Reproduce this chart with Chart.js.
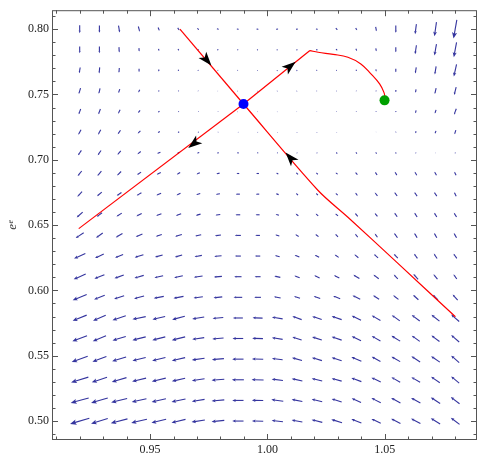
<!DOCTYPE html>
<html><head><meta charset="utf-8">
<script src="https://cdn.jsdelivr.net/npm/chart.js@4.4.1/dist/chart.umd.min.js"></script>
<style>html,body{margin:0;padding:0;background:#fff;}canvas{display:block;}</style>
</head><body>
<canvas id="c" width="482" height="453"></canvas>
<script>
// ---- grid of the vector field ----
const xGrid = [0.92,0.9284,0.9368,0.9453,0.9537,0.9621,0.9705,0.9789,0.9874,0.9958,1.0042,1.0126,1.0211,1.0295,1.0379,1.0463,1.0547,1.0632,1.0716,1.08];
const yGrid = [0.80,0.7842,0.7684,0.7526,0.7368,0.7211,0.7053,0.6895,0.6737,0.6579,0.6421,0.6263,0.6105,0.5947,0.5789,0.5632,0.5474,0.5316,0.5158,0.50];
// field components (horizontal, vertical), one row per yGrid value
const fieldU = [
[0,0,1.2,1.5,1.3,1.5,1.5,2,2,2,2,2,2,1.7,1.4,0.8,0,-1.3,-2,-3.3],
[0,0,0.3,0.3,0.5,1,1,1.2,1.2,1.2,1.2,1.4,1.5,1.2,1,0.6,0,-1.3,-2,-2.7],
[-1,-0.6,-0.4,0,0,0.5,0.5,0.6,0.8,0.8,0.9,1,1,0.8,0.8,0.5,0,-1,-1.3,-2.7],
[-1.7,-1.3,-1.3,-1.4,-0.6,-0.2,0.3,0.3,0.3,0.5,0.6,0.7,0.7,0.6,0.4,0.2,-0.2,-0.6,-1.3,-2],
[-2,-2,-2,-2,-1.3,-0.8,-0.5,-0.3,0.2,0.3,0.4,0.4,0.3,0.3,0.2,0,-0.3,-0.7,-1.2,-2.2],
[-2.7,-2.7,-2.7,-2.7,-2,-1.4,-1,-0.6,-0.3,-0.2,-0.3,-0.3,-0.2,-0.2,0,0,-0.3,-0.6,-1,-1.3],
[-3.4,-3.3,-3.3,-3.3,-3.3,-2.5,-2,-1.8,-1.6,-1.3,-0.8,-0.6,-0.6,-1,-1,-1,-0.8,-0.5,-0.3,-0.6],
[-4,-4,-4,-4,-4,-3.3,-3.3,-3.3,-2.7,-2.7,-2,-2,-1.8,-2,-2,-2,-2,-2,-2,-1.8],
[-4.7,-4.7,-4.7,-4.7,-4.7,-4,-4,-4,-4,-3.3,-2.7,-2,-2,-2,-2,-2.7,-2.7,-2.7,-2.7,-2],
[-6,-5.3,-5.3,-5.3,-5.3,-5.3,-4.7,-4.7,-4.7,-4,-3.3,-2.7,-2.5,-2.7,-2.7,-2.7,-2.7,-2.7,-2.7,-2.7],
[-8,-6.7,-6.7,-6.7,-6,-6.7,-6,-6,-6,-4.7,-4,-3.3,-3,-2.7,-2.7,-2.7,-3.3,-2.7,-2.7,-2.7],
[-11.3,-8.7,-8,-8.7,-7.7,-7.3,-7.3,-7.3,-6,-5.3,-4.7,-4.7,-4.3,-4,-4,-4,-4,-3.3,-3.3,-3.3],
[-12,-10,-9.3,-9.3,-8.7,-8.7,-8.7,-8,-7.3,-6,-6,-5.3,-5.3,-5.3,-6,-5.3,-4,-4.7,-4,-3.3],
[-14,-10.7,-10,-10,-10,-10,-9.3,-8.7,-8.7,-6.7,-6.7,-6,-6.5,-7,-7.7,-6,-5.3,-5.3,-5,-5],
[-14,-12.7,-13.3,-13.3,-12.7,-12.7,-12,-10.7,-10,-10,-10.7,-9.3,-9.5,-10,-9.3,-8.7,-8,-8,-8,-8],
[-14.7,-13.3,-13.3,-13.3,-13,-13.3,-12,-11.3,-10.7,-10.7,-10.7,-9.3,-9.7,-10,-9.3,-8.7,-8.7,-8,-8,-8],
[-16,-14,-14,-13.3,-13.3,-13.3,-12.7,-12,-11.3,-11.3,-10.7,-10,-10,-10,-10,-8.7,-8.7,-8.7,-8.7,-8],
[-17.3,-15.3,-14.7,-14,-14,-13.3,-12.7,-12.7,-12,-12,-11.3,-10.7,-10.5,-10,-10,-9.3,-8.7,-8.7,-8.7,-8],
[-18,-16.7,-16,-14.7,-14.3,-14,-12.7,-12.7,-11.3,-11.3,-12,-10.7,-10.5,-10,-9.3,-9.3,-9.3,-9.3,-9.3,-8.7],
[-19.3,-16.7,-16.7,-15.7,-14.7,-14,-13.3,-12.7,-11.3,-11.3,-11.3,-10.7,-10.7,-10.7,-10,-9.3,-9.3,-9.3,-9.3,-8.7]
];
const fieldV = [
[-8,-7.3,-6.9,-5.3,-3.3,-2.5,-1.8,-0.6,-0.3,0,0.4,0.2,-0.2,-1.8,-2.1,-4.4,-7.3,-10,-14,-18.7],
[-6.7,-6.7,-5.3,-3.3,-1.9,-1.5,-1,-0.6,-0.2,0.2,0.4,0.3,-0.3,-1.5,-2.2,-3,-5,-9,-11.3,-14.8],
[-5.9,-6,-4.7,-3.3,-2,-1.4,-1,-0.6,-0.2,0.3,0.5,0.4,0,-0.6,-1.3,-2,-3.5,-6,-8,-12.3],
[-6,-5.3,-4,-2.7,-1.3,-0.9,-0.6,-0.3,0.1,0.3,0.4,0.3,0,-0.4,-0.6,-0.8,-2,-3.4,-5.7,-7.7],
[-5.3,-5.3,-4,-2.7,-1.3,-0.6,-0.3,-0.2,0.2,0.2,0.1,-0.1,-0.3,-0.5,-0.6,-0.8,-1,-2.9,-3.8,-5.9],
[-5,-5,-4,-2.7,-1.3,-0.8,-0.4,-0.2,0,0.1,0.4,0.5,0.5,0.3,0,-0.3,-0.8,-1.9,-2.8,-4.3],
[-5,-4.7,-4,-2.7,-1.3,-1,-0.6,-0.3,0,0.2,0.6,0.7,0.8,1.4,1.5,1.4,1.2,0.8,0.3,0.8],
[-5,-4.7,-4,-2.7,-2,-2,-1.3,-0.7,0,0,1,1.7,1.5,1.3,2.3,3,3.3,3.5,3.5,3.5],
[-5,-4,-3.3,-2.7,-2,-2,-1.3,-0.7,0,0,1,2,2,2,2.7,3.3,3.7,4,4,4],
[-5.3,-4,-3.3,-2.7,-2,-2,-1.3,-0.7,0,0,1,2,2.2,2.3,3.3,3.3,4,4.3,4.3,4.3],
[-5.3,-4.7,-4,-2.7,-2,-2,-1.3,-0.7,0,0,1.3,2,2.4,2.7,3.3,3.7,4.7,4.7,4.7,4.7],
[-5,-4,-3.3,-2.7,-2,-2,-1.3,-0.7,0,0,1.3,2,2.3,2.7,3.3,3.7,4.3,4.7,5,4.7],
[-5.3,-4,-3.3,-2.7,-2,-2,-1.3,-0.7,0,0,1.3,2,2.4,2.7,3.7,4,4.3,5.3,5,4.7],
[-5.7,-4.3,-3.3,-2.7,-2,-2,-1.3,-1,0,0,1.3,2,2.3,2.7,3.7,3.7,4,4.8,5.2,5.5],
[-5.7,-5.7,-4.3,-2.7,-3,-3.3,-2,-1,0,0.3,1.7,3.3,3.2,3.3,4.7,5,5.7,6,6.3,7],
[-5.7,-5.3,-4,-3.3,-3.3,-3.3,-1.7,-1,0,0.3,1.7,3,3.2,3.3,4.3,5,5.3,5.7,6,7],
[-5.7,-5.3,-4.3,-3.3,-3.3,-3,-1.7,-1,0,0.3,1.3,2.7,3,3.3,4.3,4.7,5,5.7,6,7],
[-5.3,-5,-4.3,-3.3,-3.3,-3,-2,-1,0,0.3,1.3,2.3,2.5,2.7,3.7,4.3,5,5,6,6.7],
[-5,-5,-4,-3.3,-3.2,-3,-2,-1,0,0.3,1.7,2,2.5,3,4.3,4.7,5,5,6,6.7],
[-5.7,-5.3,-4.3,-3.7,-3.5,-3.3,-2,-1.3,0,0.3,1.3,2,2.7,3.3,4,4.3,4.7,5,5.7,6.7]
];
// ---- trajectories ----
const stableTopX = [0.9627,0.9898];
const stableTopY = [0.8000,0.7427];
const stableBottomX = [1.0801,1.0555,1.0343,1.0216,0.9898];
const stableBottomY = [0.5798,0.6209,0.6560,0.6765,0.7427];
const unstableLeftX = [0.9898,0.9196];
const unstableLeftY = [0.7427,0.6473];
const unstableRightX = [0.9898,1.0181];
const unstableRightY = [0.7427,0.7836];
const bendX = [1.0181,1.0216,1.0280,1.0343,1.0398,1.0441,1.0478,1.0496,1.0502];
const bendY = [0.7836,0.7823,0.7807,0.7785,0.7734,0.7658,0.7581,0.7518,0.7473];
const saddleX = [0.9898], saddleY = [0.7427];
const nodeX = [1.0499], nodeY = [0.7455];
// arrow markers on trajectories: position and sense (+1 away from saddle, -1 towards)
const markerX = [0.9742,1.0097,0.9686,1.0097];
const markerY = [0.7762,0.7716,0.7123,0.7016];
const markerSense = [-1,1,1,-1];

const pts = (xs,ys)=>xs.map((x,i)=>({x:x,y:ys[i]}));
const isMajor = v => Math.abs(Math.round(v*100)%5)===0;

function drawVec(ctx,cx,cy,dx,dy){
  const L=Math.hypot(dx,dy); if(L<0.2) return;
  const ux=dx/L, uy=dy/L;
  const x0=cx-dx/2, y0=cy-dy/2, x1=cx+dx/2, y1=cy+dy/2;
  const hl=Math.max(L*0.32,0.6), hw=Math.max(L*0.135,0.5);
  ctx.beginPath(); ctx.moveTo(x0,y0); ctx.lineTo(x1-ux*hl*0.7,y1-uy*hl*0.7); ctx.stroke();
  ctx.beginPath(); ctx.moveTo(x1,y1);
  ctx.lineTo(x1-ux*hl-uy*hw, y1-uy*hl+ux*hw);
  ctx.lineTo(x1-ux*hl*0.78, y1-uy*hl*0.78);
  ctx.lineTo(x1-ux*hl+uy*hw, y1-uy*hl-ux*hw);
  ctx.closePath(); ctx.fill();
}

const fieldPlugin = {
  id:'field',
  beforeDatasetsDraw(chart){
    const {ctx, scales:{x,y}} = chart;
    ctx.save();
    ctx.strokeStyle='#34349e'; ctx.fillStyle='#34349e'; ctx.lineWidth=1.1;
    for(let r=0;r<yGrid.length;r++){
      for(let c=0;c<xGrid.length;c++){
        const cx=x.getPixelForValue(xGrid[c]), cy=y.getPixelForValue(yGrid[r]);
        drawVec(ctx,cx,cy,fieldU[r][c],-fieldV[r][c]);
      }
    }
    ctx.restore();
  },
  afterDatasetsDraw(chart){
    const {ctx, scales:{x,y}} = chart;
    ctx.save(); ctx.fillStyle='#000';
    const sx=x.getPixelForValue(saddleX[0]), sy=y.getPixelForValue(saddleY[0]);
    markerX.forEach((mx,i)=>{
      const px=x.getPixelForValue(mx), py=y.getPixelForValue(markerY[i]);
      let dx=px-sx, dy=py-sy; const L=Math.hypot(dx,dy); dx=dx/L*markerSense[i]; dy=dy/L*markerSense[i];
      const len=14, hw=5, notch=3.5;
      const tx=px+dx*len/2, ty=py+dy*len/2, bx=tx-dx*len, by=ty-dy*len;
      ctx.beginPath(); ctx.moveTo(tx,ty);
      ctx.lineTo(bx-dy*hw, by+dx*hw);
      ctx.lineTo(tx-dx*(len-notch), ty-dy*(len-notch));
      ctx.lineTo(bx+dy*hw, by-dx*hw);
      ctx.closePath(); ctx.fill();
    });
    ctx.restore();
  },
  afterDraw(chart){
    const {ctx, chartArea:a, scales:{x,y}} = chart;
    ctx.save(); ctx.strokeStyle='#555'; ctx.lineWidth=1;
    ctx.strokeRect(a.left+0.5,a.top+0.5,a.right-a.left-1,a.bottom-a.top-1);
    ctx.beginPath();
    x.ticks.forEach(t=>{
      const px=Math.round(x.getPixelForValue(t.value))+0.5; const L=isMajor(t.value)?6:3.5;
      ctx.moveTo(px,a.bottom); ctx.lineTo(px,a.bottom-L);
      ctx.moveTo(px,a.top); ctx.lineTo(px,a.top+L);
    });
    y.ticks.forEach(t=>{
      const py=Math.round(y.getPixelForValue(t.value))+0.5; const L=isMajor(t.value)?6:3.5;
      ctx.moveTo(a.left,py); ctx.lineTo(a.left+L,py);
      ctx.moveTo(a.right,py); ctx.lineTo(a.right-L,py);
    });
    ctx.stroke(); ctx.restore();
  }
};

const tickFont = {family:'"Liberation Serif", "DejaVu Serif", serif', size:12};
const redLine = (xs,ys,t)=>({data:pts(xs,ys), showLine:true, borderColor:'#ff0000', borderWidth:1.2, pointRadius:0, tension:t||0, fill:false});

new Chart(document.getElementById('c'), {
  type:'scatter',
  data:{datasets:[
    {data:pts(saddleX,saddleY), pointRadius:5, pointBackgroundColor:'#0000ff', pointBorderWidth:0, showLine:false},
    {data:pts(nodeX,nodeY), pointRadius:5, pointBackgroundColor:'#00a000', pointBorderWidth:0, showLine:false},
    redLine(stableTopX,stableTopY),
    redLine(stableBottomX,stableBottomY,0.3),
    redLine(unstableLeftX,unstableLeftY),
    redLine(unstableRightX,unstableRightY),
    redLine(bendX,bendY,0.4)
  ]},
  options:{
    responsive:false, animation:false, devicePixelRatio:1,
    layout:{padding:{top:8,right:2,left:0,bottom:0}},
    plugins:{legend:{display:false}, tooltip:{enabled:false}},
    scales:{
      x:{type:'linear', position:'bottom', min:0.9082, max:1.0893,
        afterFit(s){s.height=13;},
        grid:{display:false, drawTicks:false}, border:{display:false},
        ticks:{stepSize:0.01, includeBounds:false, autoSkip:false, maxRotation:0, minRotation:0, padding:3, color:'#222', font:tickFont,
          callback:v=>isMajor(v)?(Math.round(v*100)/100).toFixed(2):''}},
      y:{type:'linear', position:'left', min:0.4855, max:0.8145,
        afterFit(s){s.width=52;},
        grid:{display:false, drawTicks:false}, border:{display:false},
        title:{display:true, text:'eᵉ', color:'#333', padding:{top:5,bottom:0}, font:{family:'"Liberation Serif", serif', size:13, style:'italic'}},
        ticks:{stepSize:0.01, includeBounds:false, autoSkip:false, padding:3, color:'#222', font:tickFont,
          callback:v=>isMajor(v)?(Math.round(v*100)/100).toFixed(2):''}}
    }
  },
  plugins:[fieldPlugin]
});
</script>
</body></html>
